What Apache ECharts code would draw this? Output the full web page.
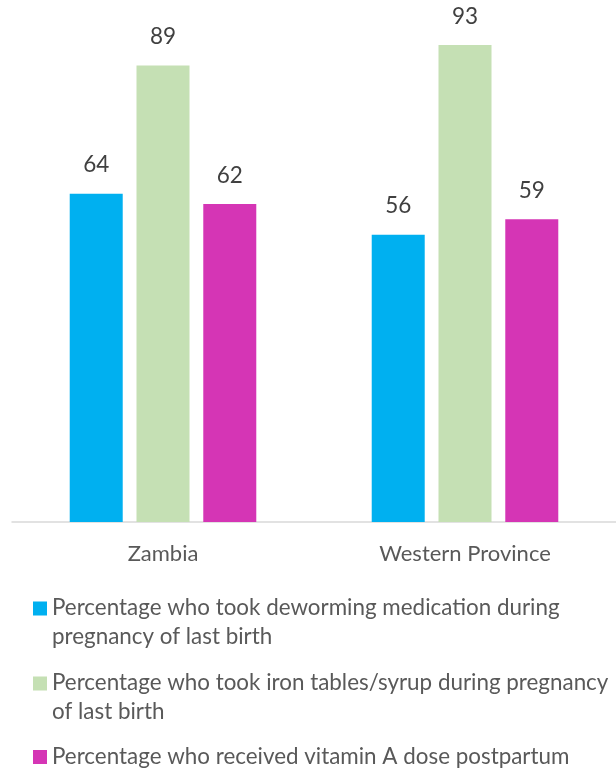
<!DOCTYPE html>
<html>
<head>
<meta charset="utf-8">
<script src="https://cdn.jsdelivr.net/npm/echarts@6/dist/echarts.min.js"></script>
<style>
  html, body { margin: 0; padding: 0; background: #fff; }
  #chart { width: 616px; height: 769px; }
</style>
</head>
<body>
<div id="chart"></div>
<script>
const categories = ["Zambia", "Western Province"];
const seriesNames = [
  "Percentage who took deworming medication during pregnancy of last birth",
  "Percentage who took iron tables/syrup during pregnancy of last birth",
  "Percentage who received vitamin A dose postpartum"
];
// legend text as it wraps in the original
const legendLabels = [
  "Percentage who took deworming medication during\npregnancy of last birth",
  "Percentage who took iron tables/syrup during pregnancy\nof last birth",
  "Percentage who received vitamin A dose postpartum"
];
const deworming = [64, 56];
const iron = [89, 93];
const vitaminA = [62, 59];
const colors = ["#00B0F0", "#C5E0B4", "#D535B5"];

const chart = echarts.init(document.getElementById("chart"));
const font = "Lato, sans-serif";

// legend icons: square at the top of a 42px tall box so it lines up with the first text line
const iconTop = "path://M0,0h14v14h-14z M0,42L14,42";
const iconMid = "path://M0,0L14,0 M0,14h14v14h-14z M0,42L14,42";

function makeSeries(name, data, color) {
  return {
    name: name,
    type: "bar",
    data: data,
    barWidth: 53,
    barGap: "26%",
    itemStyle: { color: color },
    label: {
      show: true,
      position: "top",
      distance: 17,
      color: "#404040",
      fontSize: 22.5,
      fontFamily: font
    }
  };
}

const option = {
  animation: false,
  grid: { left: 12, width: 606, top: 9, bottom: 247 },
  xAxis: {
    type: "category",
    data: categories,
    axisLine: { lineStyle: { color: "#D9D9D9", width: 1.5 } },
    axisTick: { show: false },
    axisLabel: { color: "#595959", fontSize: 22, fontFamily: font, margin: 21 }
  },
  yAxis: {
    type: "value",
    min: 0,
    max: 100,
    show: false
  },
  legend: {
    orient: "vertical",
    left: 33,
    top: 586,
    padding: 0,
    itemGap: 2,
    itemWidth: 14,
    itemHeight: 42,
    formatter: (name) => legendLabels[seriesNames.indexOf(name)],
    textStyle: {
      color: "#595959",
      fontSize: 22.4,
      fontFamily: font,
      lineHeight: 29
    },
    data: [
      { name: seriesNames[0], icon: iconTop, textStyle: { padding: [8, 0, 7, 0] } },
      { name: seriesNames[1], icon: iconTop, textStyle: { padding: [8, 0, 7, 0] } },
      { name: seriesNames[2], icon: iconMid }
    ]
  },
  series: [
    makeSeries(seriesNames[0], deworming, colors[0]),
    makeSeries(seriesNames[1], iron, colors[1]),
    makeSeries(seriesNames[2], vitaminA, colors[2])
  ]
};
chart.setOption(option);
</script>
</body>
</html>
